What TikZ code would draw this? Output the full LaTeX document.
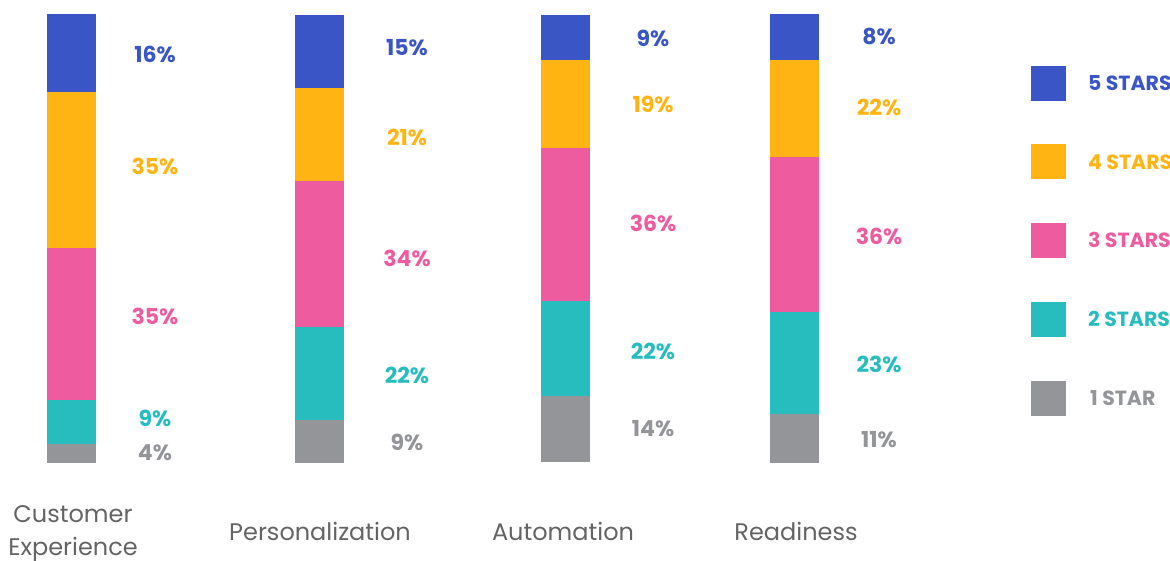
\documentclass[tikz,border=0pt]{standalone}
\usepackage{fontspec}
\setmainfont{Poppins}
\definecolor{cblue}{HTML}{3A56C6}
\definecolor{cyellow}{HTML}{FFB414}
\definecolor{cpink}{HTML}{EE5B9F}
\definecolor{cteal}{HTML}{27BDBE}
\definecolor{cgray}{HTML}{939598}
\definecolor{ctext}{HTML}{646464}
\tikzset{
  seg/.style={fill=#1, draw=none},
  pct/.style={text=#1, font=\bfseries\fontsize{22}{26}\selectfont, inner sep=0pt, anchor=center},
  leg/.style={text=#1, font=\bfseries\fontsize{20.5}{24}\selectfont, inner sep=0pt, anchor=west},
  cat/.style={text=ctext, font=\fontsize{24}{33}\selectfont, inner sep=0pt, align=center},
}
\begin{document}
\begin{tikzpicture}[x=1pt,y=-1pt]
\useasboundingbox (0,0) rectangle (1170,560);
% Bar 1: Customer Experience
\fill[cblue]   (47,14)  rectangle (96,92);
\fill[cyellow] (47,92)  rectangle (96,248);
\fill[cpink]   (47,248) rectangle (96,400);
\fill[cteal]   (47,400) rectangle (96,444);
\fill[cgray]   (47,444) rectangle (96,463);
\node[pct=cblue]   (a5) at (155,54)  {16\%};
\node[pct=cyellow] (a4) at (155,166) {35\%};
\node[pct=cpink]   (a3) at (155,316) {35\%};
\node[pct=cteal]   (a2) at (155,418) {9\%};
\node[pct=cgray]   (a1) at (155,453) {4\%};
% Bar 2: Personalization
\fill[cblue]   (295,15)  rectangle (344,88);
\fill[cyellow] (295,88)  rectangle (344,181);
\fill[cpink]   (295,181) rectangle (344,327);
\fill[cteal]   (295,327) rectangle (344,420);
\fill[cgray]   (295,420) rectangle (344,463);
\node[pct=cblue]   (b5) at (407,48)  {15\%};
\node[pct=cyellow] (b4) at (407,137) {21\%};
\node[pct=cpink]   (b3) at (407,258) {34\%};
\node[pct=cteal]   (b2) at (407,375) {22\%};
\node[pct=cgray]   (b1) at (407,442) {9\%};
% Bar 3: Automation
\fill[cblue]   (541,15)  rectangle (590,60);
\fill[cyellow] (541,60)  rectangle (590,148);
\fill[cpink]   (541,148) rectangle (590,301);
\fill[cteal]   (541,301) rectangle (590,396);
\fill[cgray]   (541,396) rectangle (590,462);
\node[pct=cblue]   (c5) at (653,38)  {9\%};
\node[pct=cyellow] (c4) at (653,104) {19\%};
\node[pct=cpink]   (c3) at (653,223) {36\%};
\node[pct=cteal]   (c2) at (653,351) {22\%};
\node[pct=cgray]   (c1) at (653,429) {14\%};
% Bar 4: Readiness
\fill[cblue]   (770,14)  rectangle (819,60);
\fill[cyellow] (770,60)  rectangle (819,157);
\fill[cpink]   (770,157) rectangle (819,312);
\fill[cteal]   (770,312) rectangle (819,414);
\fill[cgray]   (770,414) rectangle (819,463);
\node[pct=cblue]   (d5) at (879,36)  {8\%};
\node[pct=cyellow] (d4) at (879,107) {22\%};
\node[pct=cpink]   (d3) at (879,236) {36\%};
\node[pct=cteal]   (d2) at (879,364) {23\%};
\node[pct=cgray]   (d1) at (879,440) {11\%};
% Category labels
\node[cat] (l1) at (73,534) {Customer\\Experience};
\node[cat] (l2) at (320,531) {Personalization};
\node[cat] (l3) at (563,531) {Automation};
\node[cat] (l4) at (796,531) {Readiness};
% Legend
\fill[cblue]   (1031,66)  rectangle (1066,101);
\fill[cyellow] (1031,144) rectangle (1066,179);
\fill[cpink]   (1031,223) rectangle (1066,258);
\fill[cteal]   (1031,302) rectangle (1066,337);
\fill[cgray]   (1031,381) rectangle (1066,416);
\node[leg=cblue]   (g5) at (1088,83)  {5 STARS};
\node[leg=cyellow] (g4) at (1088,162) {4 STARS};
\node[leg=cpink]   (g3) at (1088,240) {3 STARS};
\node[leg=cteal]   (g2) at (1088,319) {2 STARS};
\node[leg=cgray]   (g1) at (1090,398) {1 STAR};
\end{tikzpicture}
\end{document}
